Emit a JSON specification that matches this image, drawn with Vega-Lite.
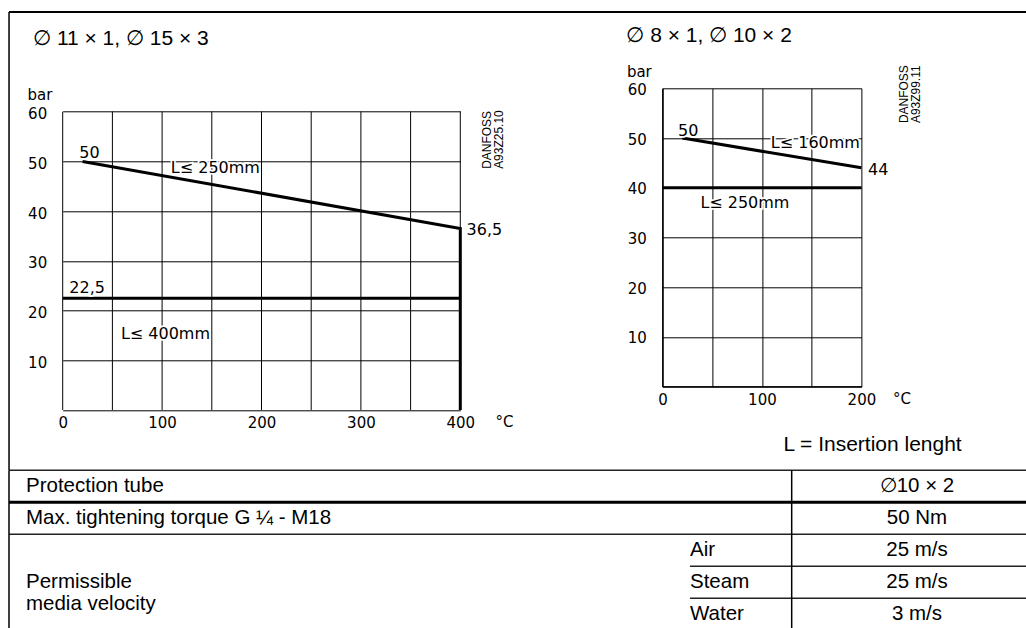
{
  "$schema": "https://vega.github.io/schema/vega-lite/v6.json",
  "background": "white",
  "padding": {"left": 6.7, "top": 10.3, "right": 0, "bottom": 0},
  "autosize": {"type": "pad"},
  "config": {
    "view": {"stroke": null},
    "font": "DejaVu Sans",
    "axis": {
      "grid": true, "gridColor": "black", "gridOpacity": 1, "gridWidth": 1,
      "domainColor": "black", "domainWidth": 1.5,
      "ticks": false,
      "labelFont": "DejaVu Sans", "labelFontSize": 15, "labelColor": "black",
      "labelOverlap": false, "labelFlush": false, "labelBound": false,
      "titleFont": "DejaVu Sans", "titleFontSize": 15, "titleFontWeight": "normal", "titleColor": "black"
    }
  },
  "datasets": {
    "leftGrid": [
      {"temp": 0}, {"temp": 50}, {"temp": 100}, {"temp": 150}, {"temp": 200},
      {"temp": 250}, {"temp": 300}, {"temp": 350}, {"temp": 400}
    ],
    "leftLines": [
      {"series": "L≤ 250mm", "temp": 20, "bar": 50, "seq": 1},
      {"series": "L≤ 250mm", "temp": 400, "bar": 36.5, "seq": 2},
      {"series": "L≤ 250mm", "temp": 400, "bar": 0, "seq": 3},
      {"series": "L≤ 400mm", "temp": 0, "bar": 22.5, "seq": 1},
      {"series": "L≤ 400mm", "temp": 400, "bar": 22.5, "seq": 2}
    ],
    "rightLines": [
      {"series": "L≤ 160mm", "temp": 20, "bar": 50, "seq": 1},
      {"series": "L≤ 160mm", "temp": 200, "bar": 44, "seq": 2},
      {"series": "L≤ 250mm", "temp": 0, "bar": 40, "seq": 1},
      {"series": "L≤ 250mm", "temp": 200, "bar": 40, "seq": 2}
    ],
    "leftNotes": [
      {"t": "50", "x": 16.7, "y": 51.6},
      {"t": "L≤ 250mm", "x": 108.8, "y": 48.7},
      {"t": "36,5", "x": 406.3, "y": 36.2},
      {"t": "22,5", "x": 6.7, "y": 24.6},
      {"t": "L≤ 400mm", "x": 58.6, "y": 15.2}
    ],
    "rightNotes": [
      {"t": "50", "x": 15.8, "y": 51.5},
      {"t": "L≤ 160mm", "x": 109, "y": 48.9},
      {"t": "44", "x": 206.7, "y": 43.6},
      {"t": "L≤ 250mm", "x": 38.2, "y": 37.0}
    ],
    "table": [
      {"row": "Protection tube", "label": "Protection tube", "medium": "", "value": "∅10 × 2"},
      {"row": "Max. tightening torque", "label": "Max. tightening torque G ¼ - M18", "medium": "", "value": "50 Nm"},
      {"row": "Air", "label": "", "medium": "Air", "value": "25 m/s"},
      {"row": "Steam", "label": "Permissible\nmedia velocity", "medium": "Steam", "value": "25 m/s"},
      {"row": "Water", "label": "", "medium": "Water", "value": "3 m/s"}
    ]
  },
  "concat": [
    {
      "width": 397.6, "height": 321.7,
      "layer": [
        {
          "data": {"name": "leftGrid"},
          "mark": {"type": "rule", "color": "black", "strokeWidth": 1},
          "encoding": {
            "x": {"field": "temp", "type": "quantitative", "scale": {"domain": [0, 400], "nice": false, "zero": false}},
            "y": {"datum": 0, "scale": {"domain": [0, 60], "nice": false, "range": [321.7, 23.4]}},
            "y2": {"datum": 60}
          }
        },
        {
          "data": {"name": "leftLines"},
          "mark": {"type": "line", "color": "black", "strokeWidth": 3},
          "encoding": {
            "x": {"field": "temp", "type": "quantitative", "scale": {"domain": [0, 400], "nice": false, "zero": false},
              "axis": {"grid": false, "domain": false, "values": [0, 100, 200, 300, 400], "labelPadding": 6, "title": "°C", "titleX": 441.3, "titleY": 12, "titleAlign": "center", "titleBaseline": "middle"}},
            "y": {"field": "bar", "type": "quantitative", "scale": {"domain": [0, 60], "nice": false, "range": [321.7, 23.4]},
              "axis": {"domain": false, "values": [0, 10, 20, 30, 40, 50, 60], "labelExpr": "datum.value === 0 ? '' : datum.label", "labelPadding": 16, "labelOffset": 2, "title": "bar", "titleAngle": 0, "titleX": -35.7, "titleY": 5.7, "titleAlign": "left", "titleBaseline": "middle"}},
            "detail": {"field": "series"},
            "order": {"field": "seq"}
          }
        },
        {
          "data": {"name": "leftNotes"},
          "mark": {"type": "text", "align": "left", "baseline": "middle", "fontSize": 16, "color": "black", "stroke": "white", "strokeWidth": 3.5},
          "encoding": {"x": {"field": "x", "type": "quantitative"}, "y": {"field": "y", "type": "quantitative"}, "text": {"field": "t"}}
        },
        {
          "data": {"name": "leftNotes"},
          "mark": {"type": "text", "align": "left", "baseline": "middle", "fontSize": 16, "color": "black"},
          "encoding": {"x": {"field": "x", "type": "quantitative"}, "y": {"field": "y", "type": "quantitative"}, "text": {"field": "t"}}
        },
        {
          "data": {"values": [{"t": "DANFOSS\nA93Z25.10"}]},
          "mark": {"type": "text", "angle": 270, "align": "left", "baseline": "middle", "lineBreak": "\n", "lineHeight": 12, "font": "Liberation Sans", "fontSize": 12, "color": "black"},
          "encoding": {"x": {"datum": 426.9}, "y": {"datum": 48.5}, "text": {"field": "t"}}
        },
        {
          "data": {"values": [{"t": "∅ 11 × 1, ∅ 15 × 3"}]},
          "mark": {"type": "text", "align": "left", "baseline": "middle", "font": "Liberation Sans", "fontSize": 21, "color": "black"},
          "encoding": {"x": {"datum": -29.8}, "y": {"datum": 74.6}, "text": {"field": "t"}}
        },
        {
          "data": {"values": [{}]},
          "mark": {"type": "rule", "color": "black", "strokeWidth": 1.5},
          "encoding": {"x": {"datum": -54}, "y": {"datum": 80.05}, "y2": {"datum": -12.07}}
        },
        {
          "data": {"values": [{}]},
          "mark": {"type": "rule", "color": "black", "strokeWidth": 2},
          "encoding": {"x": {"datum": -54}, "x2": {"datum": 975}, "y": {"datum": 80.05}}
        }
      ]
    },
    {
      "width": 199, "height": 298.3,
      "layer": [
        {
          "data": {"name": "rightLines"},
          "mark": {"type": "line", "color": "black", "strokeWidth": 3},
          "encoding": {
            "x": {"field": "temp", "type": "quantitative", "scale": {"domain": [0, 200], "nice": false, "zero": false},
              "axis": {"values": [0, 50, 100, 150, 200], "labelExpr": "datum.value % 100 === 0 ? datum.label : ''", "labelPadding": 6, "title": "°C", "titleX": 239, "titleY": 12, "titleAlign": "center", "titleBaseline": "middle"}},
            "y": {"field": "bar", "type": "quantitative", "scale": {"domain": [0, 60], "nice": false},
              "axis": {"values": [0, 10, 20, 30, 40, 50, 60], "labelExpr": "datum.value === 0 ? '' : datum.label", "labelPadding": 16, "labelOffset": 1, "title": "bar", "titleAngle": 0, "titleX": -36, "titleY": -17.3, "titleAlign": "left", "titleBaseline": "middle"}},
            "detail": {"field": "series"},
            "order": {"field": "seq"}
          }
        },
        {
          "data": {"name": "rightNotes"},
          "mark": {"type": "text", "align": "left", "baseline": "middle", "fontSize": 16, "color": "black", "stroke": "white", "strokeWidth": 3.5},
          "encoding": {"x": {"field": "x", "type": "quantitative"}, "y": {"field": "y", "type": "quantitative"}, "text": {"field": "t"}}
        },
        {
          "data": {"name": "rightNotes"},
          "mark": {"type": "text", "align": "left", "baseline": "middle", "fontSize": 16, "color": "black"},
          "encoding": {"x": {"field": "x", "type": "quantitative"}, "y": {"field": "y", "type": "quantitative"}, "text": {"field": "t"}}
        },
        {
          "data": {"values": [{"t": "DANFOSS\nA93Z99.11"}]},
          "mark": {"type": "text", "angle": 270, "align": "left", "baseline": "middle", "lineBreak": "\n", "lineHeight": 12, "font": "Liberation Sans", "fontSize": 12, "color": "black"},
          "encoding": {"x": {"datum": 243.2}, "y": {"datum": 53.0}, "text": {"field": "t"}}
        },
        {
          "data": {"values": [{"t": "∅ 8 × 1, ∅ 10 × 2"}]},
          "mark": {"type": "text", "align": "left", "baseline": "middle", "font": "Liberation Sans", "fontSize": 21, "color": "black"},
          "encoding": {"x": {"datum": -36.2}, "y": {"datum": 70.6}, "text": {"field": "t"}}
        },
        {
          "data": {"values": [{"t": "L = Insertion lenght"}]},
          "mark": {"type": "text", "align": "left", "baseline": "middle", "font": "Liberation Sans", "fontSize": 21, "color": "black"},
          "encoding": {"x": {"datum": 121.6}, "y": {"datum": -11.7}, "text": {"field": "t"}}
        }
      ]
    },
    {
      "width": 397.6, "height": 160,
      "data": {"name": "table"},
      "layer": [
        {
          "transform": [{"filter": {"field": "row", "oneOf": ["Protection tube", "Air"]}}],
          "mark": {"type": "rule", "color": "#222", "strokeWidth": 1.5},
          "encoding": {
            "y": {"field": "row", "type": "nominal", "bandPosition": 0, "scale": {"domain": ["Protection tube", "Max. tightening torque", "Air", "Steam", "Water"], "paddingInner": 0, "paddingOuter": 0}, "axis": null},
            "x": {"datum": 0, "type": "quantitative", "scale": {"domain": [53.7, 451.3], "nice": false, "zero": false}, "axis": null},
            "x2": {"datum": 1040}
          }
        },
        {
          "transform": [{"filter": {"field": "row", "equal": "Max. tightening torque"}}],
          "mark": {"type": "rule", "color": "black", "strokeWidth": 3},
          "encoding": {
            "y": {"field": "row", "type": "nominal", "bandPosition": 0, "scale": {"domain": ["Protection tube", "Max. tightening torque", "Air", "Steam", "Water"], "paddingInner": 0, "paddingOuter": 0}, "axis": null},
            "x": {"datum": 0, "type": "quantitative", "axis": null},
            "x2": {"datum": 1040}
          }
        },
        {
          "transform": [{"filter": {"field": "row", "oneOf": ["Steam", "Water"]}}],
          "mark": {"type": "rule", "color": "#222", "strokeWidth": 1.5},
          "encoding": {
            "y": {"field": "row", "type": "nominal", "bandPosition": 0, "scale": {"domain": ["Protection tube", "Max. tightening torque", "Air", "Steam", "Water"], "paddingInner": 0, "paddingOuter": 0}, "axis": null},
            "x": {"datum": 681, "type": "quantitative", "axis": null},
            "x2": {"datum": 1040}
          }
        },
        {
          "data": {"values": [{}]},
          "mark": {"type": "rule", "color": "black", "strokeWidth": 1.5},
          "encoding": {"x": {"datum": 0, "type": "quantitative", "axis": null}}
        },
        {
          "data": {"values": [{}]},
          "mark": {"type": "rule", "color": "black", "strokeWidth": 1.5},
          "encoding": {"x": {"datum": 782.7, "type": "quantitative", "axis": null}}
        },
        {
          "mark": {"type": "text", "align": "left", "baseline": "middle", "lineBreak": "\n", "lineHeight": 22, "font": "Liberation Sans", "fontSize": 20.5, "color": "black"},
          "encoding": {
            "y": {"field": "row", "type": "nominal", "scale": {"domain": ["Protection tube", "Max. tightening torque", "Air", "Steam", "Water"], "paddingInner": 0, "paddingOuter": 0}, "axis": null},
            "x": {"datum": 17, "type": "quantitative", "axis": null},
            "text": {"field": "label"}
          }
        },
        {
          "mark": {"type": "text", "align": "left", "baseline": "middle", "font": "Liberation Sans", "fontSize": 20.5, "color": "black"},
          "encoding": {
            "y": {"field": "row", "type": "nominal", "scale": {"domain": ["Protection tube", "Max. tightening torque", "Air", "Steam", "Water"], "paddingInner": 0, "paddingOuter": 0}, "axis": null},
            "x": {"datum": 681, "type": "quantitative", "axis": null},
            "text": {"field": "medium"}
          }
        },
        {
          "mark": {"type": "text", "align": "center", "baseline": "middle", "font": "Liberation Sans", "fontSize": 20.5, "color": "black"},
          "encoding": {
            "y": {"field": "row", "type": "nominal", "scale": {"domain": ["Protection tube", "Max. tightening torque", "Air", "Steam", "Water"], "paddingInner": 0, "paddingOuter": 0}, "axis": null},
            "x": {"datum": 908, "type": "quantitative", "axis": null},
            "text": {"field": "value"}
          }
        }
      ]
    }
  ],
  "columns": 2,
  "align": "each",
  "spacing": {"row": 60, "column": 201.7},
  "bounds": "flush"
}
